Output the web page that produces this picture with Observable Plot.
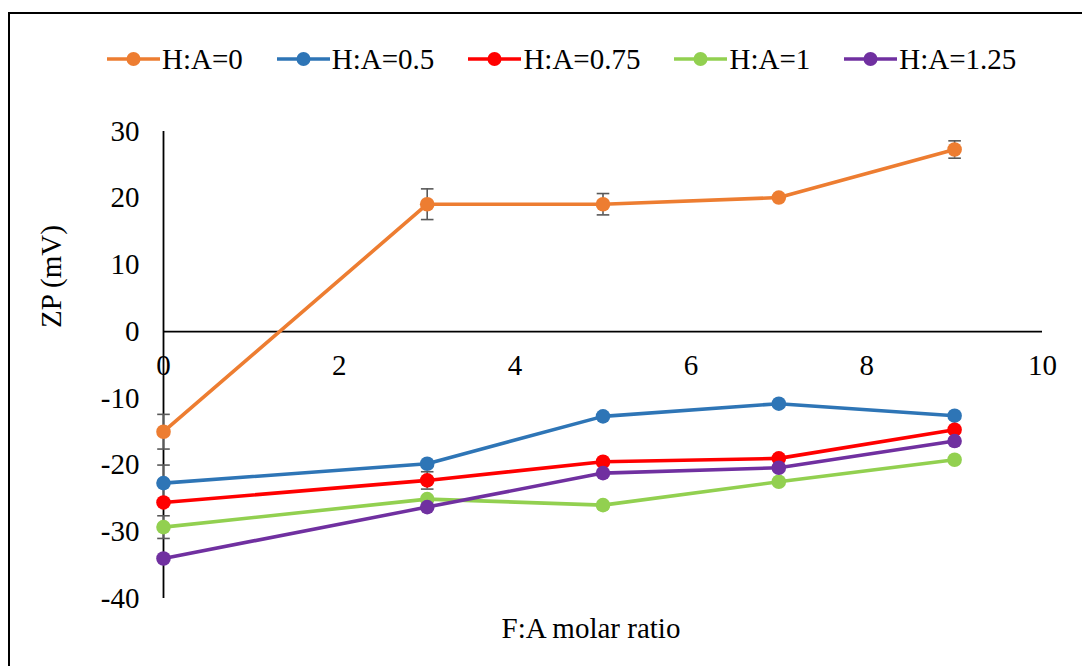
<!DOCTYPE html>
<html>
<head>
<meta charset="utf-8">
<script src="https://cdn.jsdelivr.net/npm/d3@7"></script>
<script src="https://cdn.jsdelivr.net/npm/@observablehq/plot@0.6"></script>
<style>
  html, body { margin: 0; padding: 0; background: #fff; overflow: hidden; }
  body { width: 1082px; height: 666px; position: relative; font-family: "Liberation Serif", "Times New Roman", serif; }
  #frame { position: absolute; left: 8px; top: 12px; width: 1100px; height: 700px; border: 2px solid #000; box-sizing: border-box; pointer-events: none; }
  #legend { height: 100px; box-sizing: border-box; padding-top: 44px; padding-left: 107px; display: flex; align-items: flex-start; }
  .item { display: flex; align-items: center; margin-right: 34px; height: 30px; }
  .item span { font-family: "Liberation Serif", "Times New Roman", serif; font-size: 29px; line-height: 30px; margin-left: 2px; color: #000; }
  #chart svg { display: block; }
</style>
</head>
<body>
<div id="legend"></div>
<div id="chart"></div>
<div id="frame"></div>
<script>
const xValues = [0, 3, 5, 7, 9];
const seriesNames = ["H:A=0", "H:A=0.5", "H:A=0.75", "H:A=1", "H:A=1.25"];
const seriesColors = ["#ED7D31", "#2E75B6", "#FF0000", "#92D050", "#7030A0"];
const zpHA0   = [-15.0, 19.1, 19.1, 20.1, 27.3];
const zpHA05  = [-22.7, -19.8, -12.7, -10.8, -12.6];
const zpHA075 = [-25.6, -22.3, -19.5, -19.0, -14.7];
const zpHA1   = [-29.3, -25.1, -26.0, -22.5, -19.2];
const zpHA125 = [-34.0, -26.3, -21.2, -20.4, -16.4];
const errHA0   = [2.6, 2.3, 1.6, 0, 1.3];
const errHA05  = [2.7, 0, 0, 0, 0];
const errHA075 = [0, 1.3, 0, 0, 0];
const errHA1   = [1.7, 0, 0, 0, 0];
const errHA125 = [0, 0, 0, 0, 0];
const yTicks = [-40, -30, -20, -10, 0, 10, 20, 30];
const xTicks = [0, 2, 4, 6, 8, 10];
const xTitle = "F:A molar ratio";
const yTitle = "ZP (mV)";

const serif = "'Liberation Serif', 'Times New Roman', serif";
const values = [zpHA0, zpHA05, zpHA075, zpHA1, zpHA125];
const errors = [errHA0, errHA05, errHA075, errHA1, errHA125];
const data = seriesNames.map((s, i) => xValues.map((x, j) => ({series: s, x, y: values[i][j], e: errors[i][j]})));

// legend
const legend = document.getElementById("legend");
seriesNames.forEach((s, i) => {
  const item = document.createElement("div");
  item.className = "item";
  item.innerHTML = `<svg width="53" height="18"><line x1="0" x2="53" y1="9" y2="9" stroke="${seriesColors[i]}" stroke-width="3.5"/><circle cx="26.5" cy="9" r="7" fill="${seriesColors[i]}"/></svg><span>${s}</span>`;
  legend.appendChild(item);
});

const capSymbol = {
  draw(context, size) {
    const w = Math.sqrt(size / Math.PI);
    context.moveTo(-w, 0);
    context.lineTo(w, 0);
  }
};

const marks = [
  Plot.ruleY([0], {stroke: "#000", strokeWidth: 1.6}),
  Plot.ruleX([0], {stroke: "#000", strokeWidth: 1.8}),
  Plot.axisY({ticks: yTicks, tickSize: 0, tickPadding: 24, tickFormat: d => String(d), fontSize: 29, fontFamily: serif, label: null}),
  Plot.text(xTicks, {x: d => d, y: () => 0, dy: 34, text: d => String(d), fontSize: 29, fontFamily: serif, lineAnchor: "middle"}),
  Plot.text([xTitle], {frameAnchor: "bottom", dy: 30, dx: -12, fontSize: 29, fontFamily: serif, lineAnchor: "middle"}),
  Plot.text([yTitle], {frameAnchor: "left", dx: -112, dy: -37, rotate: -90, fontSize: 29, fontFamily: serif, lineAnchor: "middle"})
];

data.forEach((rows, i) => {
  const errRows = rows.filter(d => d.e > 0);
  marks.push(
    Plot.ruleX(errRows, {x: "x", y1: d => d.y - d.e, y2: d => d.y + d.e, stroke: "#595959", strokeWidth: 1.6}),
    Plot.dot(errRows, {x: "x", y: d => d.y + d.e, r: 6.3, symbol: capSymbol, stroke: "#595959", strokeWidth: 1.6, fill: "none"}),
    Plot.dot(errRows, {x: "x", y: d => d.y - d.e, r: 6.3, symbol: capSymbol, stroke: "#595959", strokeWidth: 1.6, fill: "none"}),
    Plot.line(rows, {x: "x", y: "y", stroke: seriesColors[i], strokeWidth: 3.6}),
    Plot.dot(rows, {x: "x", y: "y", r: 7.3, fill: seriesColors[i], stroke: "none"})
  );
});

const chart = Plot.plot({
  width: 1082,
  height: 566,
  marginTop: 31,
  marginBottom: 68,
  marginLeft: 163,
  marginRight: 40,
  x: {domain: [0, 10], axis: null},
  y: {domain: [-40, 30], axis: null},
  style: {fontFamily: serif, fontSize: "29px", color: "#000", background: "transparent", overflow: "visible"},
  marks
});
document.getElementById("chart").appendChild(chart);
</script>
</body>
</html>
